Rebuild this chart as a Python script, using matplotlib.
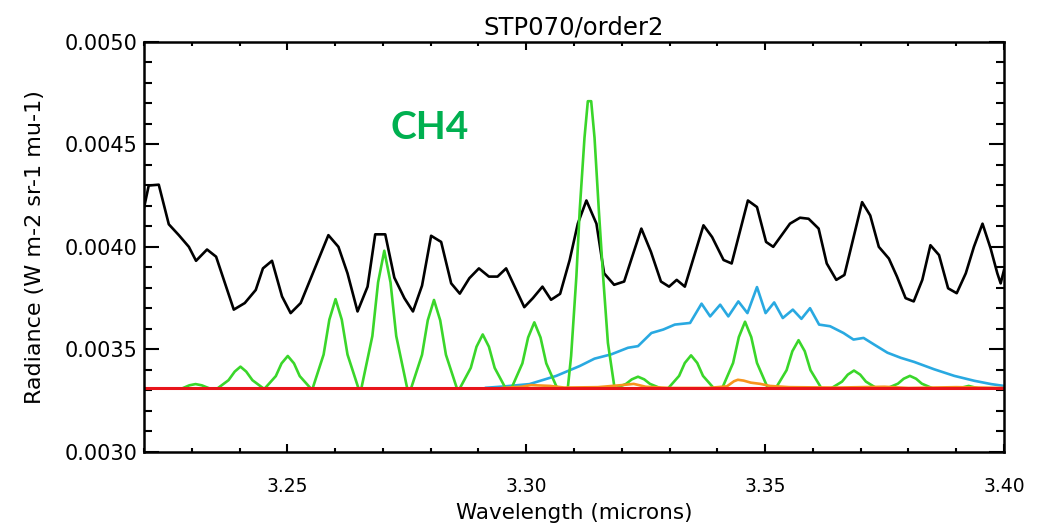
import matplotlib
matplotlib.use("Agg")
import matplotlib.pyplot as plt
from matplotlib.ticker import MultipleLocator, FormatStrFormatter

# observed spectrum (black)
obs_wl = [3.2196, 3.2210, 3.2231, 3.2252, 3.2273, 3.2294, 3.2309, 3.2332, 3.2351,
          3.2388, 3.2411, 3.2434, 3.2449, 3.2468, 3.2489, 3.2507, 3.2528, 3.2559,
          3.2586, 3.2607, 3.2626, 3.2647, 3.2668, 3.2684, 3.2705, 3.2724, 3.2745,
          3.2763, 3.2782, 3.2801, 3.2822, 3.2843, 3.2861, 3.2881, 3.2901, 3.2922,
          3.2940, 3.2958, 3.2996, 3.3014, 3.3034, 3.3052, 3.3071, 3.3091, 3.3108,
          3.3126, 3.3147, 3.3163, 3.3184, 3.3205, 3.3241, 3.3261, 3.3282, 3.3299,
          3.3315, 3.3332, 3.3371, 3.3389, 3.3413, 3.3430, 3.3464, 3.3483, 3.3502,
          3.3517, 3.3552, 3.3573, 3.3591, 3.3612, 3.3629, 3.3649, 3.3666, 3.3703,
          3.3720, 3.3738, 3.3759, 3.3776, 3.3794, 3.3811, 3.3829, 3.3846, 3.3864,
          3.3883, 3.3901, 3.3920, 3.3937, 3.3955, 3.3972, 3.3986, 3.3993, 3.4000]
obs_rad = [0.004145, 0.004299, 0.004303, 0.004110, 0.004057, 0.004000, 0.003932, 0.003987, 0.003952,
           0.003694, 0.003726, 0.003790, 0.003895, 0.003932, 0.003758, 0.003677, 0.003726, 0.003903,
           0.004057, 0.004000, 0.003871, 0.003685, 0.003806, 0.004061, 0.004061, 0.003850, 0.003750,
           0.003685, 0.003811, 0.004054, 0.004024, 0.003822, 0.003772, 0.003847, 0.003895, 0.003855,
           0.003855, 0.003895, 0.003706, 0.003750, 0.003806, 0.003742, 0.003771, 0.003936, 0.004113,
           0.004226, 0.004113, 0.003871, 0.003815, 0.003831, 0.004089, 0.003976, 0.003831, 0.003806,
           0.003839, 0.003806, 0.004105, 0.004048, 0.003936, 0.003919, 0.004226, 0.004194, 0.004024,
           0.004000, 0.004113, 0.004142, 0.004137, 0.004089, 0.003919, 0.003839, 0.003863, 0.004218,
           0.004153, 0.004000, 0.003943, 0.003855, 0.003750, 0.003734, 0.003839, 0.004008, 0.003960,
           0.003798, 0.003774, 0.003871, 0.004000, 0.004113, 0.003992, 0.003871, 0.003822, 0.003887]

# CH4 model (green)
ch4_wl = [3.2200, 3.2280, 3.2295, 3.2308, 3.2321, 3.2337,
          3.2354, 3.2377, 3.2390, 3.2402, 3.2414, 3.2427, 3.2450,
          3.2453, 3.2476, 3.2488, 3.2501, 3.2514, 3.2526, 3.2549,
          3.2553, 3.2576, 3.2588, 3.2601, 3.2614, 3.2626, 3.2649,
          3.2655, 3.2678, 3.2690, 3.2703, 3.2716, 3.2728, 3.2751,
          3.2759, 3.2782, 3.2794, 3.2807, 3.2820, 3.2832, 3.2855,
          3.2861, 3.2884, 3.2896, 3.2909, 3.2922, 3.2934, 3.2957,
          3.2969, 3.2992, 3.3004, 3.3017, 3.3030, 3.3042, 3.3065,
          3.3087, 3.3094, 3.3105, 3.3112, 3.3122, 3.3129, 3.3136, 3.3143, 3.3152, 3.3161, 3.3171, 3.3185,
          3.3186, 3.3209, 3.3221, 3.3234, 3.3247, 3.3259, 3.3282,
          3.3297, 3.3320, 3.3332, 3.3345, 3.3358, 3.3370, 3.3393,
          3.3410, 3.3433, 3.3445, 3.3458, 3.3471, 3.3483, 3.3506,
          3.3522, 3.3545, 3.3557, 3.3570, 3.3583, 3.3595, 3.3618,
          3.3638, 3.3661, 3.3673, 3.3686, 3.3699, 3.3711, 3.3734,
          3.3755, 3.3778, 3.3790, 3.3803, 3.3816, 3.3828, 3.3851,
          3.3905, 3.3926, 3.3947, 3.4000]
ch4_rad = [0.003310, 0.003310, 0.003325, 0.003331, 0.003325, 0.003310,
           0.003310, 0.003350, 0.003392, 0.003416, 0.003392, 0.003350, 0.003310,
           0.003310, 0.003370, 0.003432, 0.003468, 0.003432, 0.003370, 0.003310,
           0.003310, 0.003475, 0.003645, 0.003745, 0.003645, 0.003475, 0.003310,
           0.003310, 0.003565, 0.003827, 0.003981, 0.003827, 0.003565, 0.003310,
           0.003310, 0.003474, 0.003642, 0.003741, 0.003642, 0.003474, 0.003310,
           0.003310, 0.003410, 0.003513, 0.003573, 0.003513, 0.003410, 0.003310,
           0.003310, 0.003432, 0.003558, 0.003632, 0.003558, 0.003432, 0.003310,
           0.003310, 0.003468, 0.003855, 0.004179, 0.004532, 0.004710, 0.004710, 0.004532, 0.004179, 0.003855, 0.003532, 0.003310,
           0.003310, 0.003332, 0.003354, 0.003367, 0.003354, 0.003332, 0.003310,
           0.003310, 0.003371, 0.003434, 0.003471, 0.003434, 0.003371, 0.003310,
           0.003310, 0.003434, 0.003560, 0.003635, 0.003560, 0.003434, 0.003310,
           0.003310, 0.003399, 0.003491, 0.003545, 0.003491, 0.003399, 0.003310,
           0.003310, 0.003343, 0.003377, 0.003397, 0.003377, 0.003343, 0.003310,
           0.003310, 0.003333, 0.003357, 0.003371, 0.003357, 0.003333, 0.003310,
           0.003310, 0.003322, 0.003310, 0.003310]

# broad emission model (blue)
blue_wl = [3.2916, 3.2951, 3.3007, 3.3063, 3.3112, 3.3143, 3.3178, 3.3213, 3.3234,
           3.3262, 3.3287, 3.3311, 3.3343, 3.3367, 3.3385, 3.3406, 3.3423, 3.3444,
           3.3463, 3.3483, 3.3501, 3.3519, 3.3537, 3.3558, 3.3576, 3.3594, 3.3613,
           3.3636, 3.3664, 3.3685, 3.3706, 3.3728, 3.3756, 3.3784, 3.3812, 3.3854,
           3.3896, 3.3938, 3.3973, 3.4000]
blue_rad = [0.003313, 0.003319, 0.003331, 0.003371, 0.003419, 0.003455, 0.003476, 0.003508, 0.003516,
            0.003580, 0.003597, 0.003621, 0.003629, 0.003723, 0.003661, 0.003718, 0.003661, 0.003734,
            0.003677, 0.003804, 0.003677, 0.003729, 0.003653, 0.003694, 0.003649, 0.003701, 0.003621,
            0.003613, 0.003580, 0.003548, 0.003556, 0.003524, 0.003484, 0.003459, 0.003439, 0.003403,
            0.003371, 0.003347, 0.003331, 0.003322]

# minor model (orange)
orange_wl = [3.2950, 3.2990, 3.3010, 3.3050, 3.3080, 3.3150, 3.3200, 3.3225, 3.3250,
             3.3300, 3.3380, 3.3420, 3.3435, 3.3443, 3.3455, 3.3470, 3.3490, 3.3510,
             3.3550, 3.3650, 3.3750, 3.3800, 3.3900, 3.4000]
orange_rad = [0.003312, 0.003318, 0.003326, 0.003322, 0.003314, 0.003316, 0.003326, 0.003332, 0.003318,
              0.003312, 0.003312, 0.003320, 0.003345, 0.003352, 0.003348, 0.003338, 0.003332, 0.003322,
              0.003316, 0.003314, 0.003318, 0.003312, 0.003316, 0.003312]

# continuum level (red)
cont_wl = [3.22, 3.40]
cont_rad = [0.00331, 0.00331]

fig = plt.figure(figsize=(10.5, 5.3), dpi=100)
ax = fig.add_axes([0.1371, 0.1472, 0.8191, 0.7741])

ax.plot(obs_wl, obs_rad, color="black", lw=1.9)
ax.plot(blue_wl, blue_rad, color="#29a9e1", lw=1.9)
ax.plot(ch4_wl, ch4_rad, color="#3ad62a", lw=1.9)
ax.plot(orange_wl, orange_rad, color="#f7941d", lw=1.9)
ax.plot(cont_wl, cont_rad, color="#e8141b", lw=2.2)

ax.set_xlim(3.22, 3.40)
ax.set_ylim(0.0030, 0.0050)

ax.xaxis.set_major_locator(MultipleLocator(0.05))
ax.xaxis.set_minor_locator(MultipleLocator(0.01))
ax.yaxis.set_major_locator(MultipleLocator(0.0005))
ax.yaxis.set_minor_locator(MultipleLocator(0.0001))
ax.xaxis.set_major_formatter(FormatStrFormatter("%.2f"))
ax.yaxis.set_major_formatter(FormatStrFormatter("%.4f"))

ax.tick_params(axis="x", which="major", direction="in", length=6, width=1.5,
               top=True, bottom=True, pad=18, labelsize=13.5)
ax.tick_params(axis="x", which="minor", direction="in", length=3, width=1.5,
               top=True, bottom=True)
ax.tick_params(axis="y", which="major", direction="in", length=11, width=1.5,
               left=True, right=True, pad=5, labelsize=15)
ax.tick_params(axis="y", which="minor", direction="in", length=6, width=1.5,
               left=True, right=True)
for s in ax.spines.values():
    s.set_linewidth(1.8)

ax.set_title("STP070/order2", fontsize=17.5, pad=5)
ax.set_xlabel("Wavelength (microns)", fontsize=15.5, labelpad=5)
ax.set_ylabel("Radiance (W m-2 sr-1 mu-1)", fontsize=16, labelpad=14)

ax.text(3.2797, 0.004581, "CH4", color="#00b050", fontsize=28, fontweight="bold",
        family=["Lato", "DejaVu Sans"], ha="center", va="center")

fig.savefig("out.png", dpi=100)
